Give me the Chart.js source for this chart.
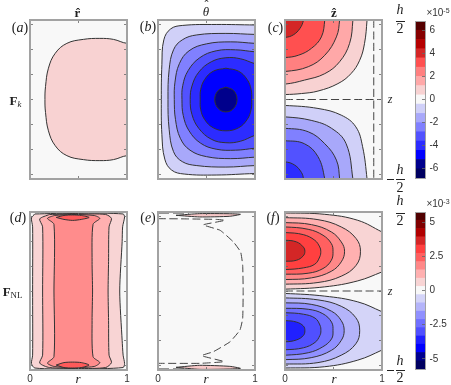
<!DOCTYPE html>
<html><head><meta charset="utf-8">
<style>
html,body{margin:0;padding:0;background:#fff;width:451px;height:385px;overflow:hidden}
canvas{position:absolute}
.t{position:absolute;transform:translate(-50%,-50%);white-space:nowrap;font-family:"Liberation Serif",serif;color:#222;line-height:1}
.b{position:absolute;background:#222;height:1px}
sub{font-size:.68em;vertical-align:baseline;position:relative;top:.25em}
sup{font-size:.7em;vertical-align:baseline;position:relative;top:-.45em}
</style>
<script src="https://cdn.jsdelivr.net/npm/chart.js@4"></script>
</head><body>
<script>
// ---- axes values
const rTicks=[0,0.5,1];
const zTicks=[-1.5,-1,-0.5,0,0.5,1,1.5];
const zMax=1.6;
// ---- colorbars
const cbTicksTop=[-6,-4,-2,0,2,4,6];
const cbEdgesTop=[-6.83,-6.03,-5.22,-4.42,-3.62,-2.81,-2.01,-1.21,-0.4,0.4,1.21,2.01,2.81,3.62,4.42,5.22,6.03,6.83];
const cbColorsTop=['#000060','#00008c','#0000ff','#2c2cff','#5252ff','#8080ff','#a8a8fa','#d0d0f8','#f8f8f8','#f8d2d2','#ffa8a8','#ff8080','#ff5050','#d42626','#b50000','#870000','#550000'];
const cbTicksBot=[-5,-2.5,0,2.5,5];
const cbEdgesBot=[-5.73,-5.13,-4.52,-3.92,-3.32,-2.71,-2.11,-1.51,-0.9,-0.3,0.3,0.9,1.51,2.11,2.71,3.32,3.92,4.52,5.13,5.73];
const cbColorsBot=['#000060','#000090','#0000ff','#2020ff','#5050ff','#7070ff','#9090ff','#b4b4fa','#d4d4f8','#f8f8f8','#f8d4d4','#ffb0b0','#ff8888','#ff6060','#ff4040','#d42626','#b00000','#800000','#500000'];
// ---- panel (a)
const aColors=['#f8d2d2'];
const aContours=[
 [[1.2,1.13],[1,1.13],[.86,1.21],[.72,1.23],[.55,1.21],[.38,1.13],[.26,.93],[.19,.63],[.16,.26],[.154,0],[.16,-.26],[.19,-.63],[.26,-.93],[.38,-1.13],[.55,-1.21],[.72,-1.23],[.86,-1.21],[1,-1.13],[1.2,-1.13]]
];
// ---- panel (b)
const bColors=['#d0d0f8','#a8a8fa','#8080ff','#5252ff','#2c2cff','#0000ff','#00008c'];
const bContours=[
 [[1.2,1.5],[1,1.5],[.6,1.51],[.25,1.49],[.13,1.42],[.06,1.2],[.04,.7],[.034,0],[.04,-.7],[.07,-1.2],[.14,-1.42],[.27,-1.5],[.6,-1.52],[1,-1.49],[1.2,-1.49]],
 [[1.2,1.31],[1,1.31],[.7,1.33],[.4,1.3],[.25,1.2],[.16,1],[.115,.6],[.103,0],[.115,-.6],[.16,-1.05],[.25,-1.25],[.4,-1.33],[.7,-1.36],[1,-1.33],[1.2,-1.33]],
 [[1.2,1.12],[1,1.13],[.75,1.16],[.5,1.12],[.32,.98],[.22,.72],[.175,.35],[.168,0],[.18,-.4],[.23,-.78],[.33,-1.02],[.5,-1.15],[.75,-1.19],[1,-1.16],[1.2,-1.14]],
 [[1.2,.94],[1,.96],[.8,1],[.6,.98],[.43,.84],[.31,.58],[.255,.28],[.247,0],[.26,-.32],[.32,-.63],[.44,-.88],[.6,-1],[.8,-1.02],[1,-.98],[1.2,-.94]],
 [[1.2,.62],[1,.72],[.85,.82],[.7,.84],[.55,.76],[.42,.55],[.35,.27],[.332,0],[.35,-.3],[.42,-.58],[.55,-.8],[.7,-.87],[.85,-.84],[1,-.72],[1.2,-.6]],
 [[.7,.63],[.83,.57],[.92,.4],[.96,.2],[.966,0],[.96,-.2],[.92,-.4],[.83,-.57],[.7,-.63],[.57,-.57],[.48,-.4],[.44,-.2],[.435,0],[.44,.2],[.48,.4],[.57,.57],[.7,.63]],
 [[.7,.25],[.78,.18],[.815,0],[.78,-.18],[.7,-.25],[.62,-.18],[.585,0],[.62,.18],[.7,.25]]
];
// ---- panel (c)
const cColors=['#f8d2d2','#ffa8a8','#ff8080','#ff5050','#d42626','#d0d0f8','#a8a8fa','#8080ff','#5252ff','#2c2cff'];
const cContours=[
 [[-.2,1.8],[-.2,.1],[0,.1],[.17,.12],[.34,.17],[.546,.32],[.68,.52],[.77,.79],[.82,1.13],[.846,1.6],[.85,1.8]],
 [[-.2,1.8],[-.2,.31],[0,.31],[.2,.39],[.41,.52],[.563,.76],[.666,1.13],[.7,1.6],[.7,1.8]],
 [[-.2,1.8],[-.2,.564],[0,.564],[.24,.66],[.41,.89],[.53,1.26],[.563,1.6],[.563,1.8]],
 [[-.2,1.8],[-.2,.845],[0,.845],[.137,.89],[.273,1.03],[.375,1.26],[.41,1.6],[.41,1.8]],
 [[-.2,1.8],[-.2,1.25],[0,1.25],[.085,1.3],[.154,1.43],[.19,1.6],[.19,1.8]],
 [[-.2,-1.8],[-.2,-.12],[0,-.12],[.34,-.18],[.58,-.315],[.73,-.55],[.8,-.95],[.846,-1.6],[.85,-1.8]],
 [[-.2,-1.8],[-.2,-.35],[0,-.35],[.27,-.42],[.48,-.58],[.63,-.89],[.7,-1.6],[.7,-1.8]],
 [[-.2,-1.8],[-.2,-.58],[0,-.58],[.24,-.65],[.41,-.89],[.53,-1.22],[.563,-1.6],[.563,-1.8]],
 [[-.2,-1.8],[-.2,-.83],[0,-.83],[.2,-.89],[.34,-1.15],[.41,-1.6],[.41,-1.8]],
 [[-.2,-1.8],[-.2,-1.255],[0,-1.255],[.1,-1.32],[.17,-1.47],[.19,-1.6],[.19,-1.8]]
];
const cDashed=[
 [[0,0],[1,0]],
 [[.915,1.6],[.915,-1.6]]
];
// ---- panel (d)
const dColors=['#f8d4d4','#ffb0b0','#ff8c8c','#ff5a5a','#ff5a5a','#a82828','#a82828'];
const dContours=[
 [[.05,1.56],[.5,1.58],[.96,1.56],[.975,1.5],[.955,1.3],[.95,1],[.925,0],[.95,-1],[.96,-1.3],[.975,-1.47],[.96,-1.55],[.5,-1.58],[.05,-1.56],[.015,-1.47],[.027,-1.3],[.027,0],[.027,1.3],[.015,1.48],[.05,1.56]],
 [[.2,1.55],[.5,1.56],[.78,1.55],[.84,1.47],[.815,1.3],[.81,.6],[.805,0],[.81,-.6],[.815,-1.3],[.84,-1.45],[.78,-1.55],[.5,-1.57],[.2,-1.55],[.1,-1.46],[.13,-1.3],[.13,0],[.13,1.3],[.1,1.46],[.2,1.55]],
 [[.25,1.53],[.43,1.55],[.66,1.53],[.72,1.47],[.65,1.35],[.64,.6],[.645,0],[.64,-.6],[.65,-1.33],[.72,-1.45],[.66,-1.53],[.43,-1.55],[.25,-1.53],[.18,-1.46],[.247,-1.33],[.247,0],[.247,1.35],[.18,1.47],[.25,1.53]],
 [[.27,1.49],[.35,1.45],[.44,1.43],[.53,1.45],[.61,1.49],[.53,1.53],[.44,1.54],[.35,1.53],[.27,1.49]],
 [[.27,-1.5],[.35,-1.45],[.44,-1.44],[.53,-1.45],[.61,-1.5],[.53,-1.55],[.44,-1.56],[.35,-1.55],[.27,-1.5]],
 [[.15,1.62],[.44,1.57],[.73,1.62]],
 [[.15,-1.62],[.44,-1.58],[.73,-1.62]]
];
// ---- panel (e)
const eColors=['#f8c8c8','#f8c8c8'];
const eContours=[
 [[.186,1.533],[.43,1.567],[.74,1.565],[.85,1.553],[.74,1.513],[.43,1.5],[.186,1.533]],
 [[.186,-1.546],[.43,-1.505],[.74,-1.526],[.85,-1.567],[.74,-1.58],[.43,-1.587],[.186,-1.546]]
];
const eDashed=[
 [[0,1.465],[.3,1.46],[.605,1.45],[.69,1.43],[.467,1.34],[.64,1.23],[.777,.994],[.852,.79],[.873,.52],[.878,0],[.873,-.556],[.845,-.79],[.742,-1.03],[.57,-1.23],[.45,-1.31],[.68,-1.43],[.43,-1.465],[0,-1.465]]
];
const eEdgeDashes=[
 [[0,1.59],[.32,1.59]],
 [[0,-1.59],[.32,-1.59]]
];
// ---- panel (f)
const fColors=['#f8d4d4','#ffb0b0','#ff8888','#ff6060','#ff4040','#d42626','#d4d4f8','#b4b4fa','#9090ff','#7070ff','#5050ff','#2020ff'];
const fContours=[
 [[-.2,1.58],[0,1.58],[.41,1.553],[.75,1.432],[1,1.196],[1.2,1],[1.2,.55],[1,.387],[.75,.205],[.41,.084],[0,.037],[-.2,.037]],
 [[-.2,1.49],[0,1.486],[.34,1.445],[.58,1.297],[.734,1.06],[.778,.805],[.734,.522],[.58,.3],[.34,.172],[0,.138],[-.2,.138]],
 [[-.2,1.385],[0,1.385],[.273,1.344],[.478,1.196],[.58,.994],[.614,.805],[.58,.59],[.478,.4],[.273,.266],[0,.232],[-.2,.232]],
 [[-.2,1.297],[0,1.297],[.239,1.25],[.392,1.129],[.478,.96],[.495,.805],[.478,.623],[.392,.455],[.239,.36],[0,.34],[-.2,.34]],
 [[-.2,1.183],[0,1.183],[.188,1.142],[.307,1.028],[.358,.893],[.369,.805],[.358,.69],[.307,.542],[.188,.468],[0,.435],[-.2,.435]],
 [[-.2,1.028],[0,1.028],[.119,.994],[.188,.893],[.205,.805],[.188,.711],[.119,.623],[0,.603],[-.2,.603]],
 [[-.2,-.05],[0,-.05],[.41,-.104],[.75,-.22],[1,-.42],[1.2,-.6],[1.2,-1],[1,-1.196],[.75,-1.4],[.41,-1.533],[0,-1.56],[-.2,-1.56]],
 [[-.2,-.14],[0,-.14],[.34,-.18],[.58,-.31],[.73,-.54],[.77,-.805],[.73,-1.07],[.58,-1.3],[.34,-1.45],[0,-1.48],[-.2,-1.48]],
 [[-.2,-.24],[0,-.24],[.27,-.27],[.48,-.41],[.58,-.6],[.61,-.805],[.58,-1],[.48,-1.2],[.27,-1.35],[0,-1.39],[-.2,-1.39]],
 [[-.2,-.35],[0,-.35],[.24,-.37],[.39,-.46],[.48,-.63],[.495,-.805],[.48,-.97],[.39,-1.13],[.24,-1.25],[0,-1.3],[-.2,-1.3]],
 [[-.2,-.44],[0,-.44],[.19,-.47],[.31,-.55],[.36,-.69],[.37,-.805],[.36,-.9],[.31,-1.04],[.19,-1.15],[0,-1.19],[-.2,-1.19]],
 [[-.2,-.6],[0,-.6],[.12,-.63],[.19,-.71],[.205,-.805],[.19,-.9],[.12,-.99],[0,-1.03],[-.2,-1.03]]
];
const fDashed=[[[0,0],[1,0]]];

// ---- drawing
const PAD=34, XH=16, YW=26, FRAME='#a2a2a2', TICK='#666', LINE='#333';
const bgPlugin={id:'bg',beforeDatasetsDraw(c,a,o){if(!o.color)return;const s=c.chartArea,x=c.ctx;x.save();x.fillStyle=o.color;x.fillRect(s.left,s.top,s.width,s.height);x.restore();}};
function axis(pos,min,max,ticks,opts={}){
 const horiz=pos==='top'||pos==='bottom', size=opts.size||0;
 return Object.assign({type:'linear',position:pos,min,max,display:true,
  afterBuildTicks:s=>{s.ticks=ticks.map(v=>({value:v}));},
  afterFit:s=>{if(horiz)s.height=size;else s.width=size;},
  border:{display:true,color:FRAME,width:opts.frame||2,z:2},
  grid:{drawOnChartArea:false,drawTicks:true,tickLength:-3,color:TICK,lineWidth:.8,z:1},
  ticks:{display:false}},opts.extra||{});
}
function mk(box){
 const c=document.createElement('canvas');
 c.width=box.w+2*PAD;c.height=box.h+2*PAD;
 c.style.left=(box.x-PAD)+'px';c.style.top=(box.y-PAD)+'px';
 c.style.width=c.width+'px';c.style.height=c.height+'px';
 document.body.appendChild(c);return c;
}
function pts(p){return p.map(([x,y])=>({x,y}));}
function panel(box,contours,colors,dashed,showR,tension,edge){
 const ds=[];
 contours.forEach((p,i)=>ds.push({data:pts(p),showLine:true,backgroundColor:colors[i],borderColor:LINE,borderWidth:1,fill:'shape',tension:tension||.4,pointRadius:0,clip:0}));
 (dashed||[]).forEach(p=>ds.push({data:pts(p),showLine:true,borderColor:'#444',borderWidth:1,borderDash:[8,3.5],fill:false,tension:.12,pointRadius:0,clip:0}));
 (edge||[]).forEach(p=>ds.push({data:pts(p),showLine:true,borderColor:'#333',borderWidth:2,borderDash:[11,4],fill:false,pointRadius:0,clip:0}));
 ds.reverse();
 new Chart(mk(box),{type:'scatter',data:{datasets:ds},plugins:[bgPlugin],options:{
  responsive:false,animation:false,devicePixelRatio:1,layout:{padding:{left:PAD,top:PAD,right:PAD,bottom:showR?PAD-XH:PAD}},
  plugins:{legend:{display:false},tooltip:{enabled:false},bg:{color:'#f8f8f8'}},
  elements:{line:{capBezierPoints:false}},
  scales:{
   x:axis('bottom',0,1,rTicks,showR?{size:XH,extra:{ticks:{display:true,padding:6,autoSkip:false,maxRotation:0,color:'#333',font:{family:'Liberation Sans',size:10},callback:v=>v===0.5?'':String(v)}}}:{}),
   x2:axis('top',0,1,rTicks),
   y:axis('left',-zMax,zMax,zTicks),
   y2:axis('right',-zMax,zMax,zTicks)
  }}});
}
function colorbar(box,edges,colors,ticks){
 const ds=colors.map((col,i)=>({data:[[edges[i],edges[i+1]]],backgroundColor:col,borderWidth:0,barPercentage:1,categoryPercentage:1,grouped:false}));
 const lo=edges[0],hi=edges[edges.length-1];
 new Chart(mk(box),{type:'bar',data:{labels:[''],datasets:ds},options:{
  responsive:false,animation:false,devicePixelRatio:1,layout:{padding:{left:PAD,top:PAD,bottom:PAD,right:PAD-YW}},
  plugins:{legend:{display:false},tooltip:{enabled:false}},
  scales:{
   x:{display:false},
   x2:axis('top',0,1,[],{frame:1}),
   x3:axis('bottom',0,1,[],{frame:1}),
   yl:axis('left',lo,hi,[],{frame:1}),
   y:axis('right',lo,hi,ticks,{frame:1,size:YW,extra:{ticks:{display:true,padding:7.5,autoSkip:false,color:'#333',font:{family:'Liberation Sans',size:10},callback:v=>String(v)}}})
  }}});
}
const W=97.5,HT=159.5,HB=158.5;
panel({x:30,y:20,w:W,h:HT},aContours,aColors);
panel({x:158,y:20,w:W,h:HT},bContours,bColors);
panel({x:285,y:20,w:W,h:HT},cContours,cColors,cDashed);
panel({x:30,y:211.5,w:W,h:HB},dContours,dColors,null,true,.25);
panel({x:158,y:211.5,w:W,h:HB},eContours,eColors,eDashed,true,.2,eEdgeDashes);
panel({x:285,y:211.5,w:W,h:HB},fContours,fColors,fDashed,true);
colorbar({x:414.5,y:21,w:10,h:157},cbEdgesTop,cbColorsTop,cbTicksTop);
colorbar({x:414.5,y:211.5,w:10,h:157},cbEdgesBot,cbColorsBot,cbTicksBot);

// ---- text
function T(html,x,y,size,extra){const d=document.createElement('div');d.className='t';d.innerHTML=html;d.style.left=x+'px';d.style.top=y+'px';d.style.fontSize=size+'px';if(extra)d.style.cssText+=extra;document.body.appendChild(d);}
function B(x,y,w){const d=document.createElement('div');d.className='b';d.style.left=x+'px';d.style.top=y+'px';d.style.width=w+'px';document.body.appendChild(d);}
T('<b>r̂</b>',77.5,12,13);T('<i>θ</i>',206,10.5,13);T('ˆ',206.5,5,12);T('<b>ẑ</b>',334,12,13);
[['a',20,28],['b',148,27],['c',275.5,28],['d',18,218],['e',148,218],['f',273,218]].forEach(([l,x,y])=>T('(<i>'+l+'</i>)',x,y,14));
T('<b>F</b><sub><i>k</i></sub>',15.5,100,13);
T('<b>F</b><sub>NL</sub>',12.5,291,13);
[78,206,334].forEach(x=>T('<i>r</i>',x,378,13));
T('<i>z</i>',390,99,12);T('<i>z</i>',390,291,12);
T('<i>h</i>',400,10,14);B(396,21,8.5);T('2',400,29,14);
T('<i>h</i>',400,201,14);B(396,213,8.5);T('2',400,221,14);
T('<i>h</i>',400,170,14);B(396,179,8.5);T('2',400,188,14);B(387,179,7);
T('<i>h</i>',400,361,14);B(396,370,8.5);T('2',400,378,14);B(387,370,7);
const S='font-family:"Liberation Sans",sans-serif;color:#333;';
T('×10<sup>-5</sup>',438,13,10,S);T('×10<sup>-3</sup>',438,204,10,S);
</script>
</body></html>
